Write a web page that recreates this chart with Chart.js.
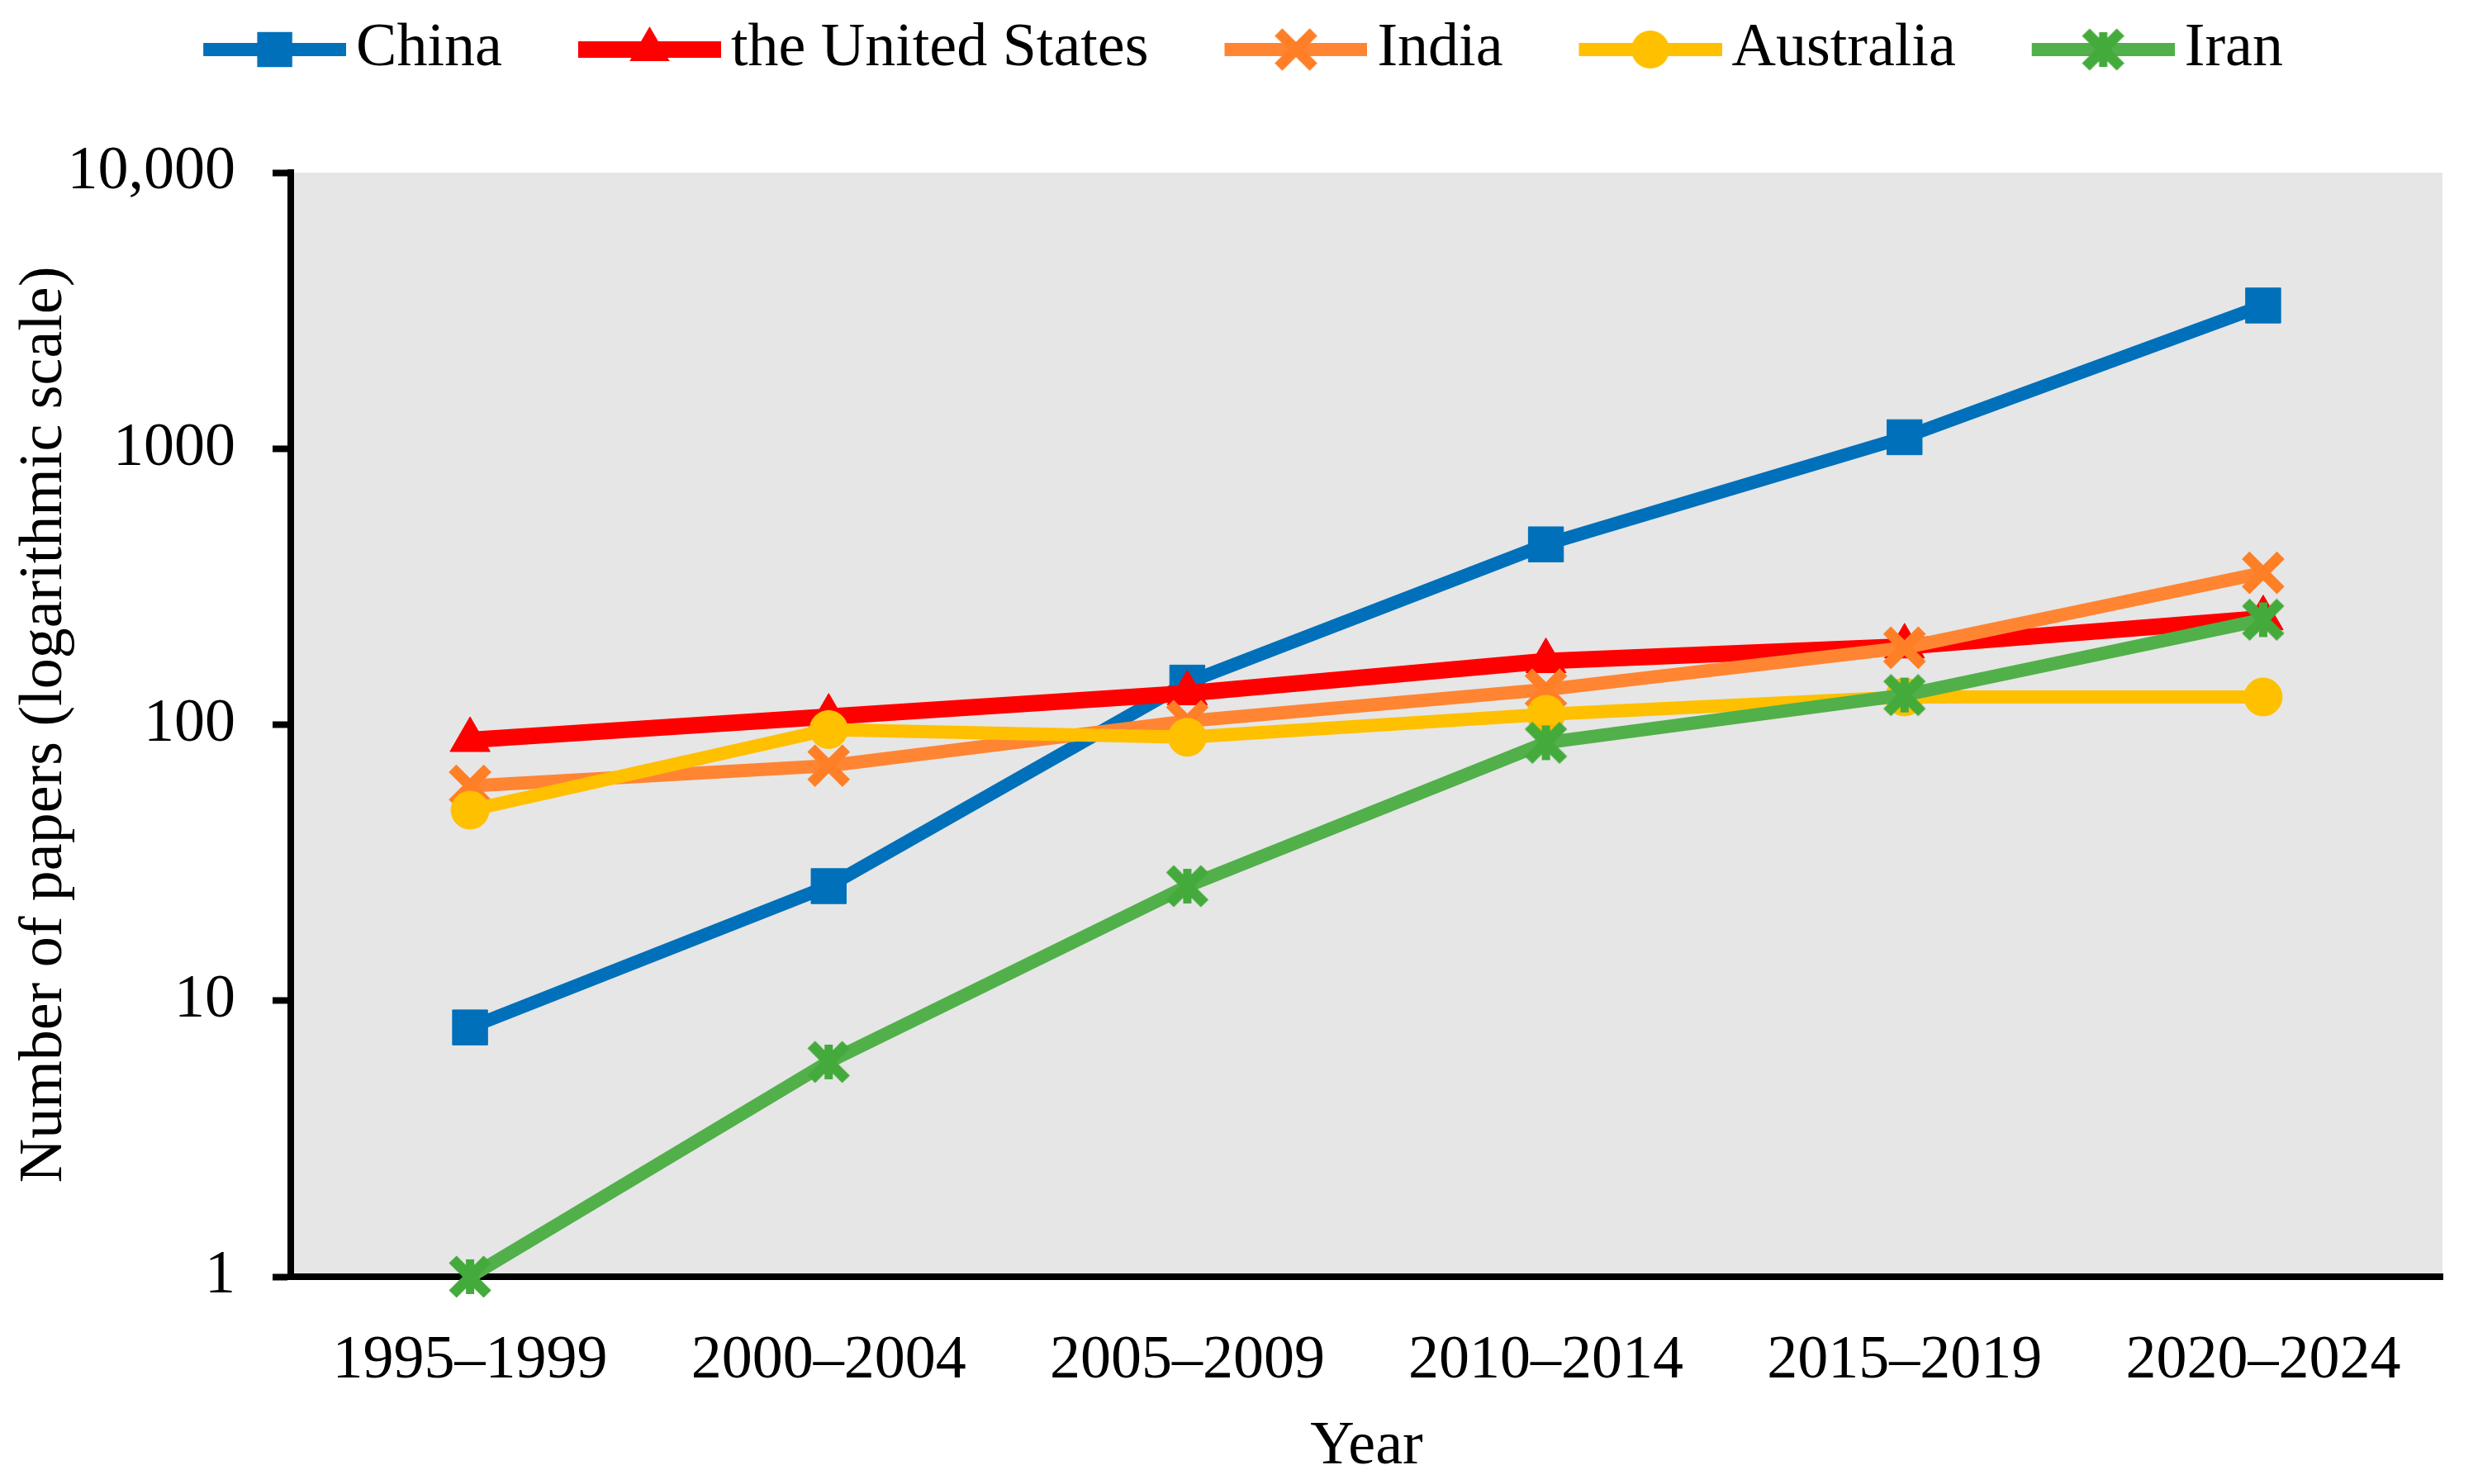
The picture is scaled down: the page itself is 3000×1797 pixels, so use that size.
<!DOCTYPE html>
<html><head><meta charset="utf-8">
<script src="https://cdn.jsdelivr.net/npm/chart.js@4.4.1/dist/chart.umd.min.js"></script>
<style>html,body{margin:0;padding:0;background:#fff}#wrap{width:3000px;height:1797px}</style>
</head><body><div id="wrap"><canvas id="c" width="3000" height="1797"></canvas></div>
<script>
const categories = ['1995–1999', '2000–2004', '2005–2009', '2010–2014', '2015–2019', '2020–2024'];
const chinaValues = [8, 26, 142, 450, 1100, 3300];
const usValues = [88, 107, 130, 170, 192, 243];
const indiaValues = [60, 71, 103, 134, 190, 355];
const australiaValues = [49, 96, 90, 109, 126, 126];
const iranValues = [1, 6, 26, 86, 128, 240];
const seriesNames = ['China', 'the United States', 'India', 'Australia', 'Iran'];
const yTickValues = [1, 10, 100, 1000, 10000];
const yTickLabels = ['1', '10', '100', '1000', '10,000'];

const FONT = "'Liberation Serif', 'Times New Roman', serif";
const FS = 74;

function makeAsterisk(color) {
  const S = 64, c = S / 2, o = 21;
  const cv = document.createElement('canvas');
  cv.width = S; cv.height = S;
  const ctx = cv.getContext('2d');
  ctx.strokeStyle = color; ctx.fillStyle = color; ctx.lineWidth = 13; ctx.lineCap = 'butt';
  ctx.beginPath();
  ctx.moveTo(c - o, c - o); ctx.lineTo(c + o, c + o);
  ctx.moveTo(c - o, c + o); ctx.lineTo(c + o, c - o);
  ctx.stroke();
  ctx.fillRect(c - 5, c - o, 10, 2 * o);
  return cv;
}
const iranMarker = makeAsterisk('#44AA3C');

const styles = [
  {line: '#0070BA', lw: 16, ps: 'rect', r: 30, mc: '#0070BA', mbw: 1},
  {line: '#FF0000', lw: 20, ps: 'triangle', r: 28, mc: '#FF0000', mbw: 1},
  {line: '#FF8533', lw: 16, ps: 'crossRot', r: 30, mc: '#FF7F27', mbw: 13},
  {line: '#FFC000', lw: 16, ps: 'circle', r: 23, mc: '#FFC000', mbw: 1},
  {line: '#52B04A', lw: 16, ps: iranMarker, r: 30, mc: '#44AA3C', mbw: 1}
];

function drawMarker(ctx, st, x, y) {
  const r = st.r;
  ctx.save();
  ctx.fillStyle = st.mc; ctx.strokeStyle = st.mc; ctx.lineWidth = st.mbw;
  ctx.beginPath();
  if (typeof st.ps !== 'string') {
    ctx.drawImage(st.ps, x - st.ps.width / 2, y - st.ps.height / 2);
  } else if (st.ps === 'rect') {
    const s = r * Math.SQRT1_2; ctx.rect(x - s, y - s, 2 * s, 2 * s); ctx.fill();
  } else if (st.ps === 'triangle') {
    ctx.moveTo(x, y - r);
    ctx.lineTo(x + Math.sin(2 * Math.PI / 3) * r, y - Math.cos(2 * Math.PI / 3) * r);
    ctx.lineTo(x + Math.sin(4 * Math.PI / 3) * r, y - Math.cos(4 * Math.PI / 3) * r);
    ctx.closePath(); ctx.fill();
  } else if (st.ps === 'circle') {
    ctx.arc(x, y, r, 0, Math.PI * 2); ctx.fill();
  } else {
    const o = r * Math.SQRT1_2;
    ctx.moveTo(x - o, y - o); ctx.lineTo(x + o, y + o);
    ctx.moveTo(x - o, y + o); ctx.lineTo(x + o, y - o);
    ctx.stroke();
  }
  ctx.restore();
}

const BOXW = 217;
function makeIcon(st) {
  const W = BOXW + 50, H = 80;
  const cv = document.createElement('canvas');
  cv.width = W; cv.height = H;
  const ctx = cv.getContext('2d');
  const x0 = W / 2 + BOXW / 2 - 148, x1 = W;
  ctx.strokeStyle = st.line; ctx.lineWidth = st.lw;
  ctx.beginPath(); ctx.moveTo(x0, H / 2); ctx.lineTo(x1, H / 2); ctx.stroke();
  drawMarker(ctx, st, (x0 + x1) / 2, H / 2);
  return cv;
}
const icons = styles.map(makeIcon);

const allValues = [chinaValues, usValues, indiaValues, australiaValues, iranValues];
const datasets = allValues.map((vals, i) => ({
  label: seriesNames[i],
  data: vals,
  borderColor: styles[i].line,
  backgroundColor: styles[i].mc,
  borderWidth: styles[i].lw,
  pointStyle: styles[i].ps,
  pointRadius: styles[i].r,
  pointBackgroundColor: styles[i].mc,
  pointBorderColor: styles[i].mc,
  pointBorderWidth: styles[i].mbw,
  tension: 0,
  clip: false,
  order: 5 - i
}));

const plotBg = {
  id: 'plotBg',
  beforeDraw(chart) {
    const {ctx, chartArea: a} = chart;
    ctx.save(); ctx.fillStyle = '#E6E6E6';
    ctx.fillRect(a.left, a.top, a.right - a.left, a.bottom - a.top);
    ctx.restore();
  }
};

new Chart(document.getElementById('c'), {
  type: 'line',
  data: {labels: categories, datasets},
  plugins: [plotBg],
  options: {
    responsive: false,
    devicePixelRatio: 1,
    animation: false,
    events: [],
    layout: {padding: {left: -42, right: 17, top: 0, bottom: 0}},
    plugins: {
      tooltip: {enabled: false},
      title: {display: true, text: ' ', font: {size: 10, lineHeight: 1}, padding: {top: 92, bottom: 0}},
      legend: {
        display: true, position: 'top', weight: 3000,
        labels: {
          usePointStyle: true, pointStyleWidth: BOXW, padding: 23,
          color: '#000', font: {family: FONT, size: FS},
          sort: (a, b) => a.datasetIndex - b.datasetIndex,
          generateLabels: (chart) => chart.data.datasets.map((ds, i) => ({
            text: ds.label, fillStyle: ds.borderColor, strokeStyle: ds.borderColor,
            lineWidth: 0, pointStyle: icons[i], hidden: false, datasetIndex: i, fontColor: '#000'
          }))
        }
      }
    },
    scales: {
      x: {
        type: 'category', offset: true,
        afterFit: (s) => { s.height = 251; },
        ticks: {font: {family: FONT, size: FS}, color: '#000', padding: 58, maxRotation: 0, autoSkip: false},
        grid: {display: false, drawTicks: false},
        border: {display: true, color: '#000', width: 8},
        title: {display: true, text: 'Year', font: {family: FONT, size: FS}, color: '#000', padding: {top: 0, bottom: 0}}
      },
      y: {
        type: 'logarithmic', min: 1, max: 10000,
        afterBuildTicks: (s) => { s.ticks = yTickValues.map(v => ({value: v, major: false})); },
        afterFit: (s) => { s.width = 394; },
        ticks: {font: {family: FONT, size: FS}, color: '#000', padding: 45, autoSkip: false,
          callback: (v, i) => yTickLabels[i]},
        grid: {display: true, drawOnChartArea: false, drawTicks: true, tickLength: 22, tickWidth: 8, tickColor: '#000'},
        border: {display: true, color: '#000', width: 8},
        title: {display: true, text: 'Number of papers (logarithmic scale)', font: {family: FONT, size: FS}, color: '#000', padding: {top: 52, bottom: 0}}
      }
    }
  }
});
</script></body></html>
